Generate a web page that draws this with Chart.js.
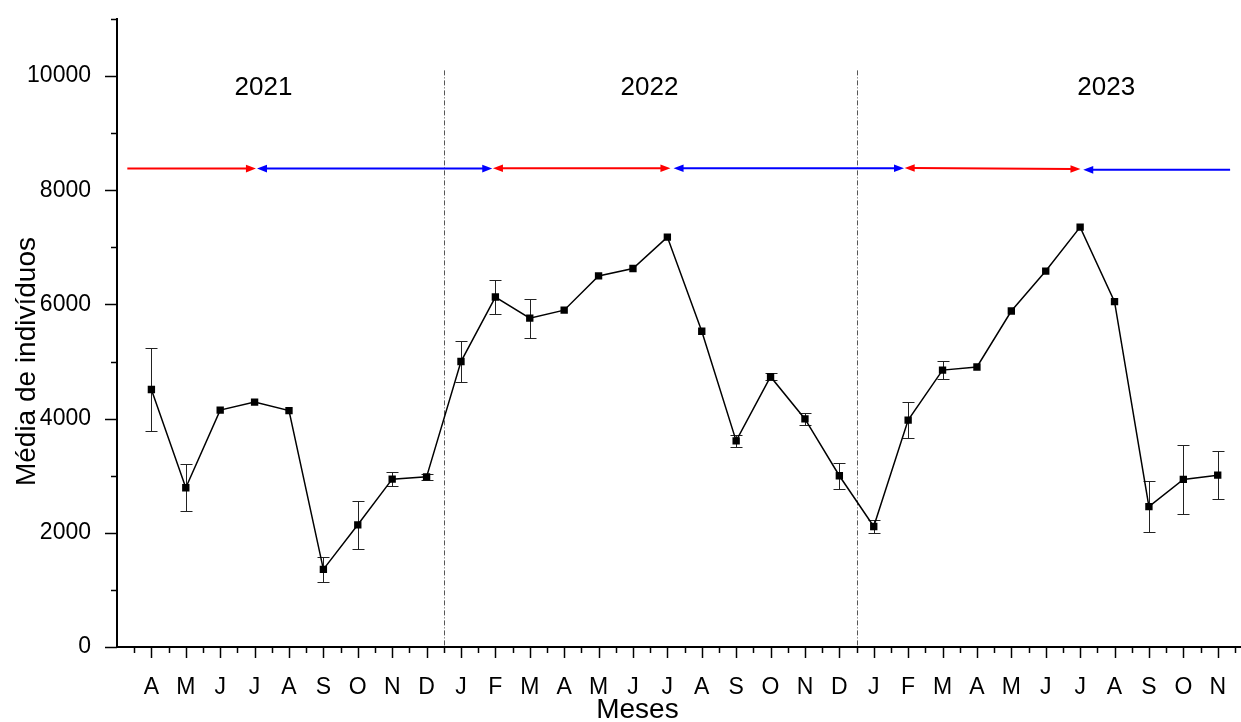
<!DOCTYPE html>
<html>
<head>
<meta charset="utf-8">
<script src="https://cdn.jsdelivr.net/npm/chart.js@4.4.1/dist/chart.umd.min.js"></script>
<style>
  html, body { margin: 0; padding: 0; background: #fff; overflow: hidden; }
  #wrap { width: 1241px; height: 722px; overflow: hidden; }
</style>
</head>
<body>
<div id="wrap"><canvas id="chart" width="1247" height="722"></canvas></div>
<script>
// Monthly means Apr/2021 - Nov/2023
const months = ['A','M','J','J','A','S','O','N','D',
                'J','F','M','A','M','J','J','A','S','O','N','D',
                'J','F','M','A','M','J','J','A','S','O','N'];
const means = [4510, 2790, 4150, 4290, 4140, 1360, 2140, 2940, 2980,
               5000, 6130, 5760, 5900, 6500, 6630, 7180, 5530, 3610, 4735, 3995, 3000,
               2110, 3975, 4850, 4905, 5885, 6585, 7355, 6050, 2460, 2935, 3010];
const errors = [720, 410, 0, 0, 0, 225, 425, 120, 50,
                365, 300, 340, 0, 0, 0, 0, 0, 110, 65, 105, 230,
                120, 320, 160, 0, 0, 0, 0, 0, 450, 600, 425];

// year blocks
const years = ['2021', '2022', '2023'];
const yearCenters = [3.26, 14.48, 27.76];
const yearLevel = 9790;
const separators = [8.5, 20.5];
const separatorTop = 10100;

// season arrows (x in month index, y in data units)
const arrowFrom = [-0.7, 3.07, 9.93, 15.18, 21.9, 27.09];
const arrowTo = [3.04, 9.91, 15.09, 21.88, 27.01, 31.36];
const arrowLevelFrom = [8380, 8380, 8385, 8385, 8390, 8358];
const arrowLevelTo = [8380, 8380, 8385, 8385, 8372, 8358];
const arrowHeadStart = [false, true, true, true, true, true];
const arrowHeadEnd = [true, true, true, true, true, false];
const arrowColors = ['#ff0000', '#0000ff', '#ff0000', '#0000ff', '#ff0000', '#0000ff'];

const FONT = '"Liberation Sans", Arial, sans-serif';
Chart.defaults.font.family = FONT;

function head(ctx, tipX, tipY, fromX, fromY) {
    const a = Math.atan2(tipY - fromY, tipX - fromX);
    const len = 10, w = 3.8;
    ctx.beginPath();
    ctx.moveTo(tipX, tipY);
    ctx.lineTo(tipX - len * Math.cos(a) + w * Math.sin(a), tipY - len * Math.sin(a) - w * Math.cos(a));
    ctx.lineTo(tipX - len * Math.cos(a) - w * Math.sin(a), tipY - len * Math.sin(a) + w * Math.cos(a));
    ctx.closePath();
    ctx.fill();
}

const overlay = {
    id: 'overlay',
    beforeDatasetsDraw(chart) {
        const { ctx, scales: { x, y } } = chart;
        ctx.save();

        // dash-dot year separators
        ctx.strokeStyle = '#555';
        ctx.lineWidth = 1;
        ctx.setLineDash([5, 2, 1, 2]);
        separators.forEach(s => {
            const px = Math.round(x.getPixelForValue(s)) + 0.5;
            ctx.beginPath();
            ctx.moveTo(px, y.getPixelForValue(separatorTop));
            ctx.lineTo(px, y.getPixelForValue(0));
            ctx.stroke();
        });
        ctx.setLineDash([]);

        // error bars
        ctx.strokeStyle = '#222';
        ctx.lineWidth = 1;
        means.forEach((m, i) => {
            if (!errors[i]) return;
            const px = Math.round(x.getPixelForValue(i)) + 0.5;
            const top = Math.round(y.getPixelForValue(m + errors[i])) + 0.5;
            const bot = Math.round(y.getPixelForValue(m - errors[i])) + 0.5;
            ctx.beginPath();
            ctx.moveTo(px, top); ctx.lineTo(px, bot);
            ctx.moveTo(px - 6, top); ctx.lineTo(px + 6, top);
            ctx.moveTo(px - 6, bot); ctx.lineTo(px + 6, bot);
            ctx.stroke();
        });

        // arrows
        ctx.lineWidth = 2;
        arrowFrom.forEach((f, i) => {
            const x1 = x.getPixelForValue(f), y1 = y.getPixelForValue(arrowLevelFrom[i]);
            const x2 = x.getPixelForValue(arrowTo[i]), y2 = y.getPixelForValue(arrowLevelTo[i]);
            ctx.strokeStyle = arrowColors[i];
            ctx.fillStyle = arrowColors[i];
            const sx = arrowHeadStart[i] ? x1 + 8 : x1;
            const ex = arrowHeadEnd[i] ? x2 - 8 : x2;
            const t1 = (sx - x1) / (x2 - x1), t2 = (ex - x1) / (x2 - x1);
            ctx.beginPath();
            ctx.moveTo(sx, y1 + (y2 - y1) * t1);
            ctx.lineTo(ex, y1 + (y2 - y1) * t2);
            ctx.stroke();
            if (arrowHeadStart[i]) head(ctx, x1, y1, x2, y2);
            if (arrowHeadEnd[i]) head(ctx, x2, y2, x1, y1);
        });

        // year labels
        ctx.fillStyle = '#000';
        ctx.font = '26px ' + FONT;
        ctx.textAlign = 'center';
        ctx.textBaseline = 'middle';
        years.forEach((t, i) => {
            ctx.fillText(t, x.getPixelForValue(yearCenters[i]), y.getPixelForValue(yearLevel));
        });
        ctx.restore();
    },
    afterDraw(chart) {
        const { ctx, scales: { x, y } } = chart;
        ctx.save();
        ctx.strokeStyle = '#000';
        ctx.lineWidth = 1.5;
        // x ticks, major on months, minor in between
        const base = y.getPixelForValue(0);
        for (let v = -0.5; v <= 31.5; v += 0.5) {
            const px = Math.round(x.getPixelForValue(v)) + 0.5;
            const len = Number.isInteger(v) ? 11 : 6;
            ctx.beginPath();
            ctx.moveTo(px, base);
            ctx.lineTo(px, base + len);
            ctx.stroke();
        }
        // y ticks
        const left = x.getPixelForValue(-1);
        for (let v = 0; v <= 11000; v += 1000) {
            const py = Math.round(y.getPixelForValue(v)) + 0.5;
            const len = v % 2000 === 0 ? 12 : 6;
            ctx.beginPath();
            ctx.moveTo(left, py);
            ctx.lineTo(left - len, py);
            ctx.stroke();
        }

        // axis titles
        ctx.fillStyle = '#000';
        ctx.font = '28px ' + FONT;
        ctx.textAlign = 'center';
        ctx.textBaseline = 'alphabetic';
        ctx.fillText('Meses', x.getPixelForValue(14.13), 718);
        ctx.translate(35, y.getPixelForValue(5000));
        ctx.rotate(-Math.PI / 2);
        ctx.fillText('Média de indivíduos', 0, 0);
        ctx.restore();
    }
};

new Chart(document.getElementById('chart'), {
    type: 'line',
    data: {
        datasets: [{
            data: means.map((m, i) => ({ x: i, y: m })),
            borderColor: '#000',
            borderWidth: 1.5,
            pointStyle: 'rect',
            pointRadius: 5.2,
            pointBackgroundColor: '#000',
            pointBorderWidth: 0,
            tension: 0
        }]
    },
    options: {
        responsive: false,
        animation: false,
        layout: { padding: { top: 19, left: 0, right: 0, bottom: 0 } },
        plugins: { legend: { display: false }, tooltip: { enabled: false } },
        scales: {
            x: {
                type: 'linear', min: -1, max: 31.7,
                afterFit(s) { s.height = 75; s.paddingLeft = 0; s.paddingRight = 0; },
                grid: { display: false },
                border: { color: '#000', width: 2 },
                ticks: {
                    stepSize: 1, includeBounds: false, autoSkip: false, maxRotation: 0,
                    padding: 19, color: '#000', font: { size: 23 },
                    callback: v => months[v] ?? ''
                }
            },
            y: {
                min: 0, max: 11000,
                afterFit(s) { s.width = 117; s.paddingTop = 0; s.paddingBottom = 0; },
                grid: { display: false },
                border: { color: '#000', width: 2 },
                ticks: {
                    stepSize: 1000, padding: 18, color: '#000', font: { size: 23 },
                    callback: v => (v % 2000 === 0 && v <= 10000) ? String(v) : ''
                }
            }
        }
    },
    plugins: [overlay]
});
</script>
</body>
</html>
